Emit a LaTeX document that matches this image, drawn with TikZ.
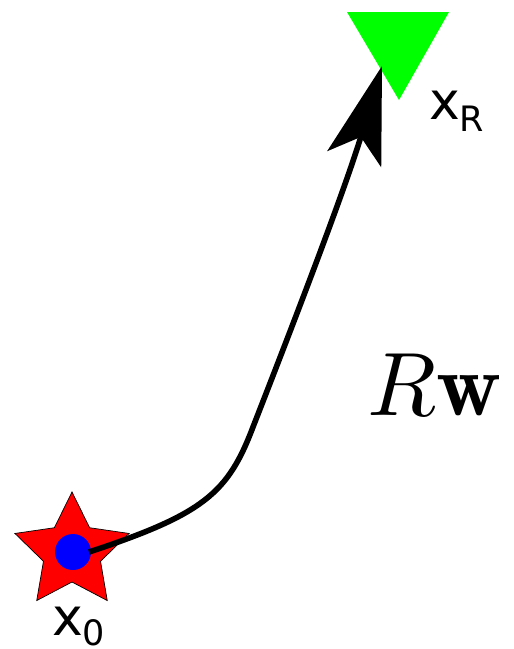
\documentclass[tikz,border=0pt]{standalone}
\usepackage{fontspec}
\newfontfamily\dv{DejaVu Sans}
\usetikzlibrary{arrows.meta,shapes.geometric}
\tikzset{
  lbl/.style={inner sep=0pt, anchor=base west},
  pathline/.style={line width=5.6pt, -{Stealth[length=97pt,width=56pt,inset=23pt]}},
}
\begin{document}
\begin{tikzpicture}[x=1pt,y=-1pt]
\useasboundingbox (0,0) rectangle (514,649);
% source star
\node[star, star points=5, star point ratio=2, minimum size=120pt, inner sep=0pt,
      fill=red, draw=black, line width=0.7pt] (star) at (72,552) {};
\node[circle, fill=blue, minimum size=36pt, inner sep=0pt] (c) at (73,552) {};
% receiver triangle
\fill[green!100] (347,12) -- (449,12) -- (399,100) -- cycle;
\coordinate (start) at (89,552);
\coordinate (mid) at (253,427);
\coordinate (tip) at (382,66);
\draw[pathline] (start) .. controls (204,514) and (228,493) .. (mid)
                        .. controls (287,340) and (345,190) .. (tip);
% labels
\node[lbl] (x0) at (52,635) {\fontsize{52}{60}\dv x\raisebox{-10pt}{\fontsize{35}{40}\selectfont 0}};
\node[lbl] (xR) at (429,119) {\fontsize{52}{60}\dv x\raisebox{-12pt}{\fontsize{35}{40}\selectfont R}};
\node[lbl, scale=9] (Rw) at (366,415) {$R\mathbf{w}$};
\end{tikzpicture}
\end{document}
